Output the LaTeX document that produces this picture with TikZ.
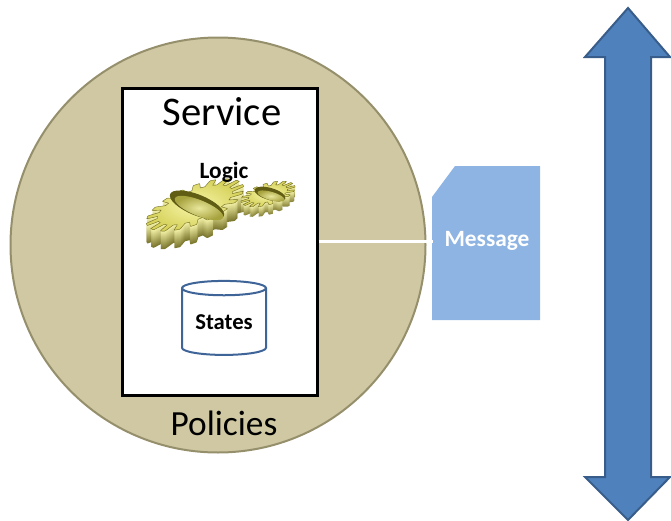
\documentclass[tikz,border=0pt]{standalone}
\usepackage{fontspec}
\setmainfont{Carlito}
\usetikzlibrary{shapes.geometric}

\definecolor{policytan}{RGB}{207,200,163}
\definecolor{policyrim}{RGB}{150,143,108}
\definecolor{msgblue}{RGB}{142,180,227}
\definecolor{arrowblue}{RGB}{79,129,189}
\definecolor{arrowedge}{RGB}{56,93,138}
\definecolor{dbedge}{RGB}{62,100,152}
\definecolor{gearlight}{RGB}{248,246,170}
\definecolor{geartop}{RGB}{214,210,92}
\definecolor{geardark}{RGB}{96,92,20}
\definecolor{gearline}{RGB}{110,106,30}

\tikzset{every picture/.style={line width=0.75pt}}
\tikzset{
  pics/cog/.style n args={3}{code={
    \path[pic actions] plot[domain=0:360,samples=541] (\x:{#2+#3*max(-1,min(1,2.5*cos(#1*\x)))}) -- cycle;
  }}
}

\begin{document}
\begin{tikzpicture}[x=0.75pt,y=0.75pt,yscale=-1,xscale=1]
\useasboundingbox (0,0) rectangle (671,521);

%Shape: Circle
\node [circle, fill=policytan, draw=policyrim, line width=1.5pt, minimum size=311.25pt, inner sep=0pt] (pol) at (218,245) {};
% Text Node
\node [font=\fontsize{26.5}{30}\selectfont] (poltext) at (224,423) {Policies};

%Shape: Rectangle
\node [draw=black, fill=white, line width=2.25pt, minimum width=146.25pt, minimum height=230.25pt, inner sep=0pt] (svc) at (219.5,241.5) {};
% Text Node
\node [font=\fontsize{30.5}{34}\selectfont] (svctext) at (222,112) {Service};

%Shape: Gear (big)
\foreach \k [evaluate=\k as \p using {int(100-4.5*\k)}] in {18,...,1}
  \pic [fill=gearlight!\p!geardark, rotate=22, yscale=0.36] at (195,{205+\k}) {cog={18}{46}{6}};
\pic [shade, inner color=gearlight, outer color=geartop, draw=gearline, line width=0.3pt, rotate=22, yscale=0.36] at (195,205) {cog={18}{46}{6}};
\fill [geardark, shift={(197,205)}, rotate=22, yscale=0.36] (0,0) ellipse (29 and 29);
\shade [inner color=gearlight!90!geardark, outer color=geartop!60!geardark, shift={(199,208)}, rotate=22, yscale=0.36] (0,0) ellipse (26 and 22);

%Shape: Gear (small)
\foreach \k [evaluate=\k as \p using {int(100-7*\k)}] in {10,...,1}
  \pic [fill=gearlight!\p!geardark, rotate=16, yscale=0.38] at (268,{194+\k}) {cog={16}{24}{4}};
\pic [shade, inner color=gearlight, outer color=geartop, draw=gearline, line width=0.3pt, rotate=16, yscale=0.38] at (268,194) {cog={16}{24}{4}};
\fill [geardark, shift={(270,194)}, rotate=16, yscale=0.38] (0,0) ellipse (16 and 16);
\shade [inner color=gearlight!90!geardark, outer color=geartop!60!geardark, shift={(271,196)}, rotate=16, yscale=0.38] (0,0) ellipse (14 and 11);

% Text Node
\node [font=\fontsize{17.5}{20}\selectfont\bfseries] (logic) at (224,172) {Logic};

%Shape: Can
\node [cylinder, shape border rotate=90, aspect=0.25, draw=dbedge, fill=white, line width=1.5pt, minimum width=63pt, minimum height=55.5pt, inner sep=0pt, font=\fontsize{17}{20}\selectfont\bfseries] (states) at (224,322) {States};

%Shape: Snip Corner Rectangle
\fill [msgblue] (432,197) -- (455,166) -- (540,166) -- (540,320) -- (432,320) -- cycle;
% Text Node
\node [text=white, font=\fontsize{17.5}{20}\selectfont\bfseries, minimum width=81pt, minimum height=115.5pt, inner sep=0pt] (msg) at (487,241) {Message};

%Straight Lines
\draw [white, line width=2.25pt] (svc.east) -- (svc.east -| msg.west);

%Shape: Up Down Arrow
\draw [arrowedge, fill=arrowblue, line width=1.5pt, line join=miter] (628,8) -- (670,57) -- (651,57) -- (651,477) -- (670,477) -- (628,520) -- (585,477) -- (605,477) -- (605,57) -- (585,57) -- cycle;

\end{tikzpicture}
\end{document}
